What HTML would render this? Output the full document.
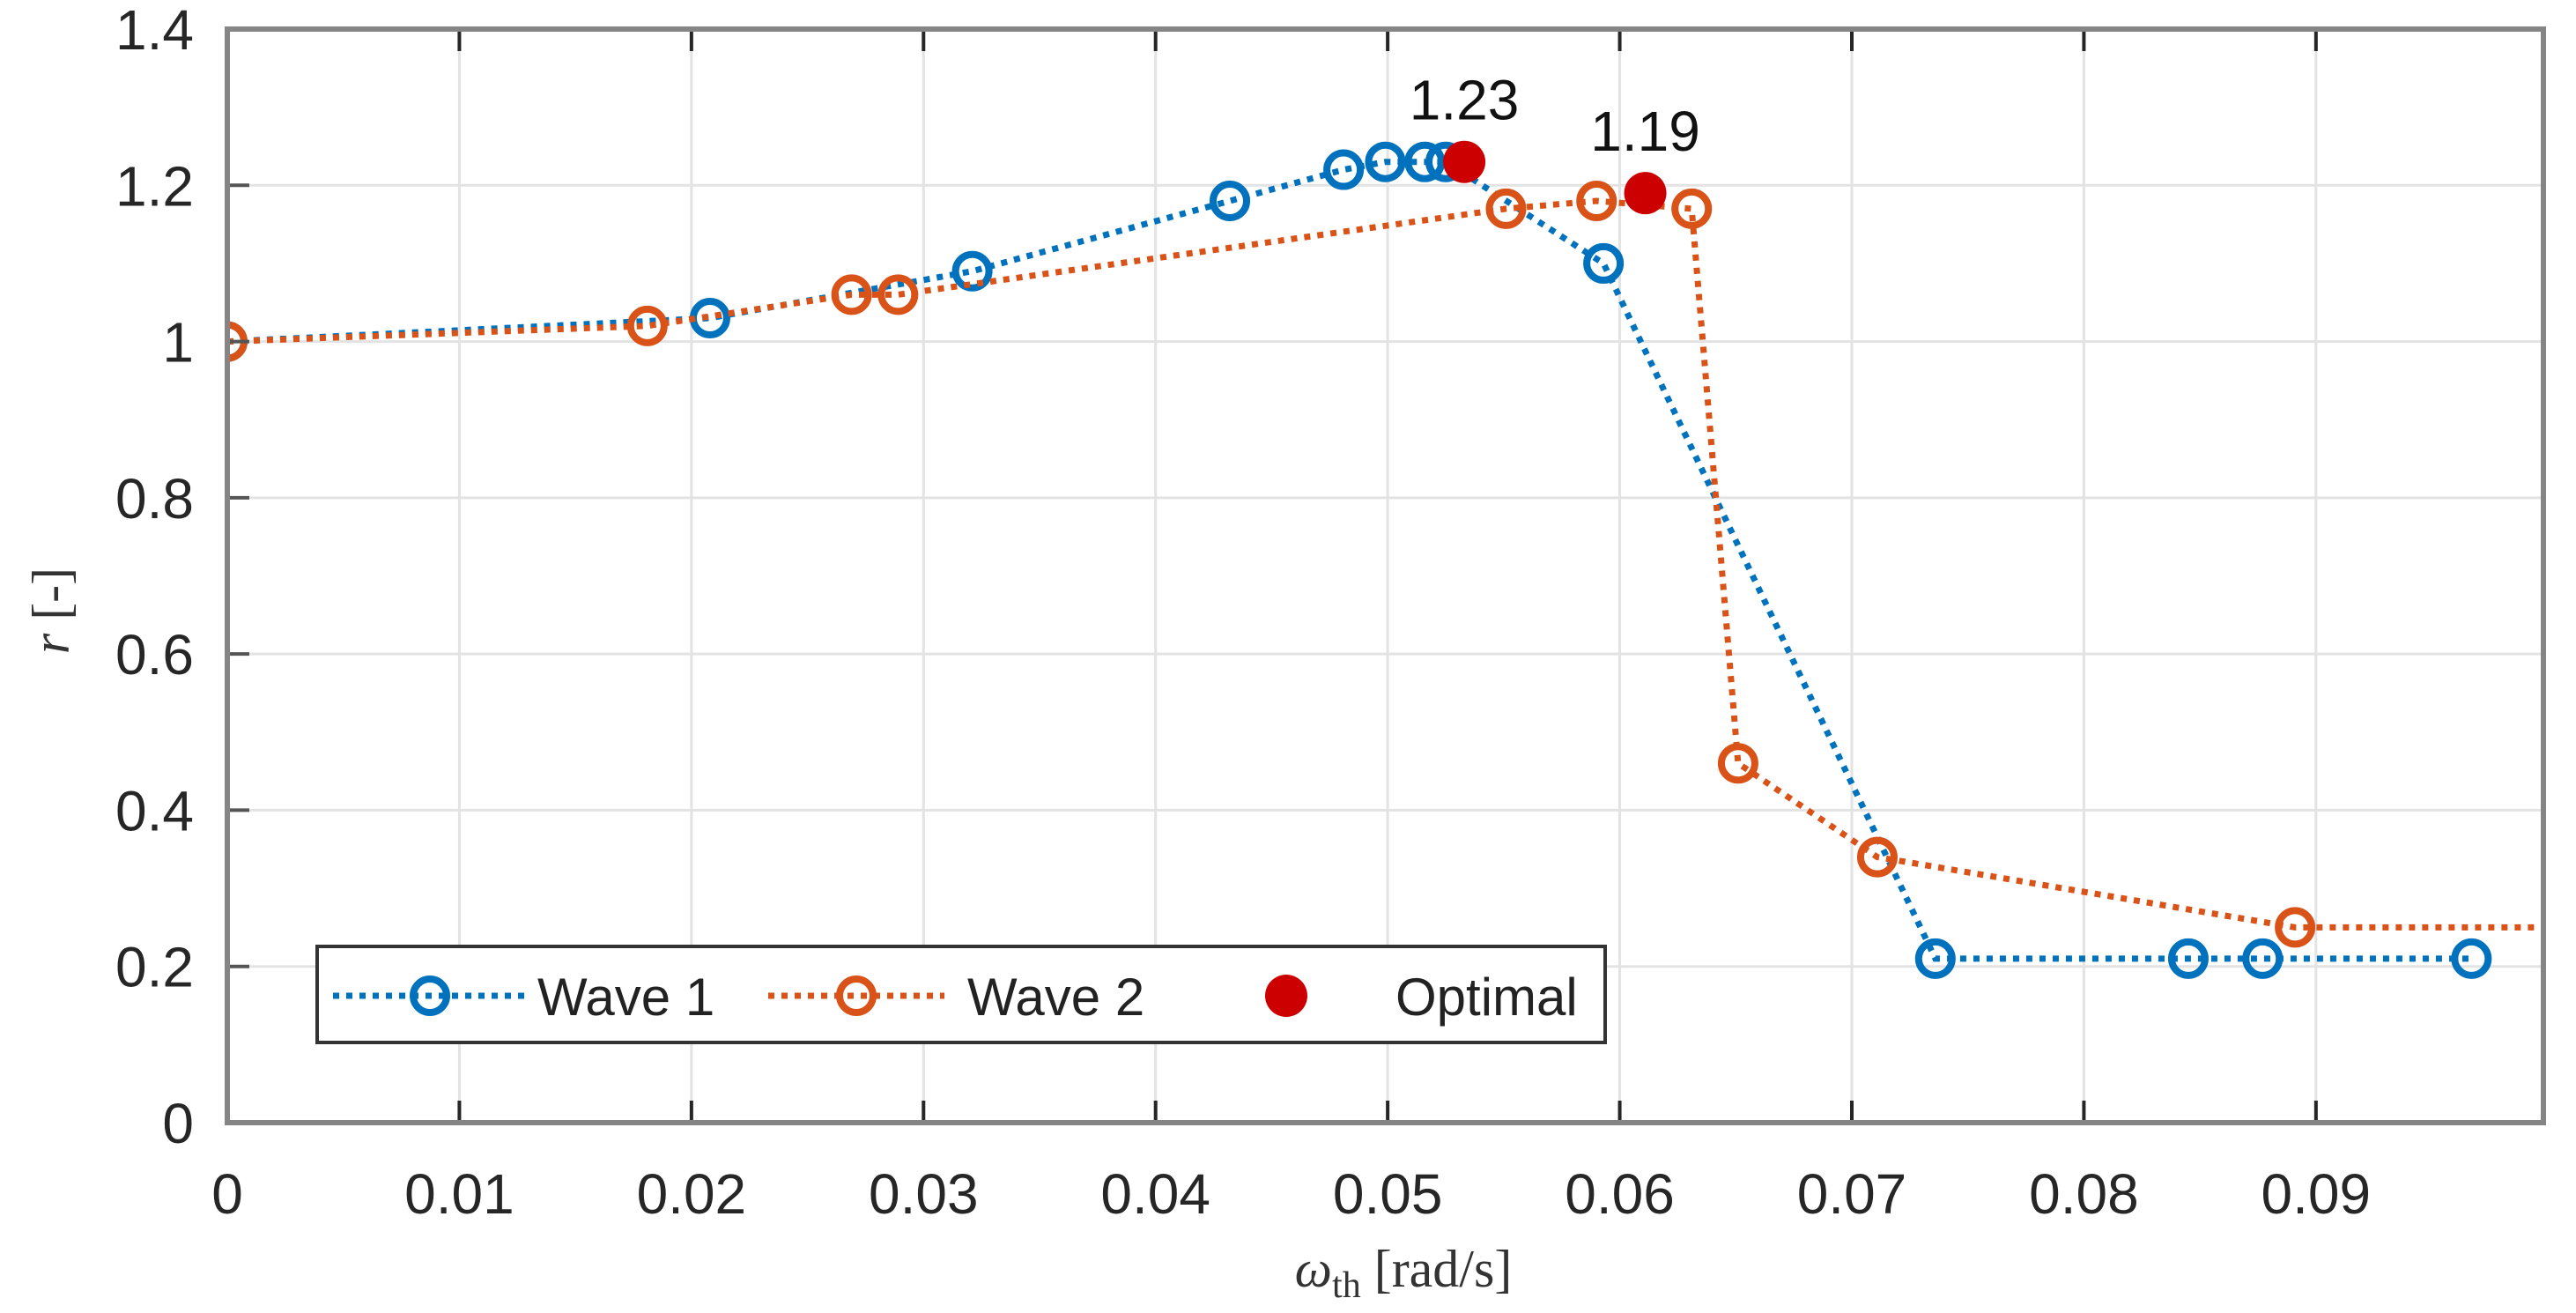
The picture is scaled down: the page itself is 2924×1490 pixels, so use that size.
<!DOCTYPE html>
<html><head><meta charset="utf-8"><style>
html,body{margin:0;padding:0;background:#fff;}
svg{display:block;font-family:"Liberation Sans",sans-serif;}
</style></head><body>
<svg id="chart" width="2924" height="1490" viewBox="0 0 2924 1490" xmlns="http://www.w3.org/2000/svg">
<g id="grid"></g>
<g id="series"></g>
<g id="axes"></g>
<text transform="translate(78,693) rotate(-90)" text-anchor="middle" font-family="Liberation Serif,serif" font-size="60" fill="#333"><tspan font-style="italic">r</tspan> [-]</text>
<text x="1593" y="1460" text-anchor="middle" font-family="Liberation Serif,serif" font-size="60" fill="#333"><tspan font-style="italic">ω</tspan><tspan font-size="42" dy="12">th</tspan><tspan dy="-12"> [rad/s]</tspan></text>
<g>
<rect x="360" y="1074" width="1462" height="109" fill="#fff" stroke="#333" stroke-width="4"/>
<g>
<line x1="378" y1="1130" x2="600" y2="1130" stroke="#0072BD" stroke-width="7" stroke-dasharray="7 8"/>
<circle cx="488" cy="1130" r="19" fill="none" stroke="#0072BD" stroke-width="8"/>
<text x="610" y="1152" font-size="60" fill="#222">Wave 1</text></g>
<g>
<line x1="872" y1="1130" x2="1072" y2="1130" stroke="#D95319" stroke-width="7" stroke-dasharray="7 8"/>
<circle cx="972" cy="1130" r="19" fill="none" stroke="#D95319" stroke-width="8"/>
<text x="1098" y="1152" font-size="60" fill="#222">Wave 2</text></g>
<g>
<circle cx="1460" cy="1130" r="24" fill="#CC0000"/>
<text x="1584" y="1152" font-size="60" fill="#222">Optimal</text></g>
</g>
</svg>
<script>
const xTicks=[0,0.01,0.02,0.03,0.04,0.05,0.06,0.07,0.08,0.09];
const yTicks=[0,0.2,0.4,0.6,0.8,1,1.2,1.4];
const xTickLabels=["0","0.01","0.02","0.03","0.04","0.05","0.06","0.07","0.08","0.09"];
const yTickLabels=["0","0.2","0.4","0.6","0.8","1","1.2","1.4"];
const wave1X=[0,0.0208,0.0321,0.0432,0.0481,0.0499,0.0516,0.0525,0.0593,0.0736,0.0845,0.0877,0.0967];
const wave1Y=[1.0,1.03,1.09,1.18,1.22,1.23,1.23,1.23,1.10,0.21,0.21,0.21,0.21];
const wave2X=[0,0.0181,0.0269,0.0289,0.0551,0.0590,0.0631,0.0651,0.0711,0.0891,0.105];
const wave2Y=[1.0,1.02,1.06,1.06,1.17,1.18,1.17,0.46,0.34,0.25,0.25];
const optimalX=[0.0533,0.0611];
const optimalY=[1.23,1.19];
const optimalLabels=["1.23","1.19"];

const X0=258,X1=2887,Y0=1274,Y1=33,XMAX=0.0998,YMAX=1.4;
const sx=v=>X0+(v/XMAX)*(X1-X0);
const sy=v=>Y0-(v/YMAX)*(Y0-Y1);
const NS="http://www.w3.org/2000/svg";
function mk(tag,parent,attrs){const e=document.createElementNS(NS,tag);for(const k in attrs)e.setAttribute(k,attrs[k]);parent.appendChild(e);return e;}
const svg=document.getElementById('chart');
const grid=document.getElementById('grid'),axes=document.getElementById('axes'),series=document.getElementById('series');
xTicks.forEach((t,i)=>{
  const x=sx(t);
  const g=mk('line',grid,{x1:x,x2:x,y1:Y1,y2:Y0,stroke:'#e3e3e3','stroke-width':3});
  
  
  const tk=mk('line',axes,{x1:x,x2:x,y1:Y0,y2:Y0-25,stroke:'#262626','stroke-width':4});
  
  
  const tk2=mk('line',axes,{x1:x,x2:x,y1:Y1,y2:Y1+25,stroke:'#262626','stroke-width':4});
  
  
  const l=mk('text',axes,{x:x,y:1377,'text-anchor':'middle','font-size':64,fill:'#262626'});
  l.textContent=xTickLabels[i];
  
  
});
yTicks.forEach((t,i)=>{
  const y=sy(t);
  const g=mk('line',grid,{x1:X0,x2:X1,y1:y,y2:y,stroke:'#e3e3e3','stroke-width':3});
  
  
  const tk=mk('line',axes,{x1:X0,x2:X0+25,y1:y,y2:y,stroke:'#555','stroke-width':4});
  
  
  const l=mk('text',axes,{x:220,y:y+23,'text-anchor':'end','font-size':64,fill:'#262626'});
  l.textContent=yTickLabels[i];
  
  
});
const frame=mk('rect',axes,{x:X0,y:Y1,width:X1-X0,height:Y0-Y1,fill:'none',stroke:'#858585','stroke-width':6});


const defs=mk('defs',svg,{});
const cp=mk('clipPath',defs,{id:'clip'});
mk('rect',cp,{x:X0,y:Y1-40,width:X1-X0,height:Y0-Y1+80});
function drawSeries(xs,ys,color,name){
  const g=mk('g',series,{'clip-path':'url(#clip)'});
  
  
  const pts=xs.map((v,i)=>sx(v)+','+sy(ys[i])).join(' ');
  const pl=mk('polyline',g,{points:pts,fill:'none',stroke:color,'stroke-width':7,'stroke-dasharray':'7 8'});
  
  
  xs.forEach((v,i)=>{
    const c=mk('circle',g,{cx:sx(v),cy:sy(ys[i]),r:19,fill:'none',stroke:color,'stroke-width':8});
    
    
  });
}
drawSeries(wave1X,wave1Y,'#0072BD','wave-1');
drawSeries(wave2X,wave2Y,'#D95319','wave-2');
optimalX.forEach((v,i)=>{
  const c=mk('circle',series,{cx:sx(v),cy:sy(optimalY[i]),r:24,fill:'#CC0000'});
  
  
  const t=mk('text',series,{x:sx(v),y:sy(optimalY[i])-48,'text-anchor':'middle','font-size':64,fill:'#111'});
  t.textContent=optimalLabels[i];
  
  
});
</script>
</body></html>
